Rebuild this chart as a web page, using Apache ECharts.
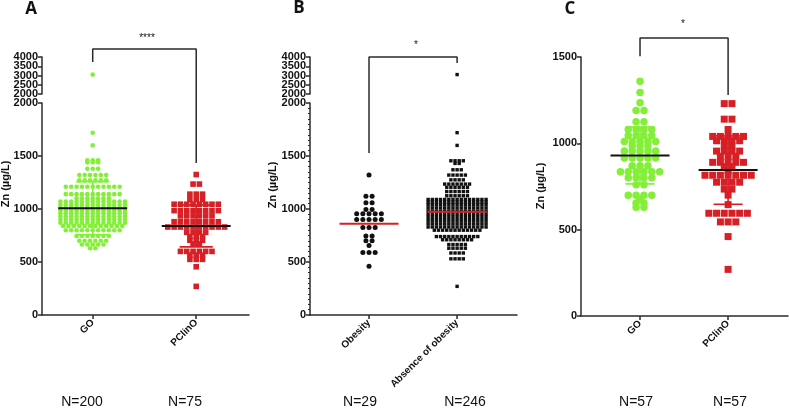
<!DOCTYPE html>
<html>
<head>
<meta charset="utf-8">
<script src="https://cdn.jsdelivr.net/npm/echarts@6/dist/echarts.min.js"></script>
<style>
  html, body { margin: 0; padding: 0; background: #fff; }
  #main { width: 789px; height: 409px; }
</style>
</head>
<body>
<div id="main"></div>
<script>
const catsA = ['GO', 'PClinO'];
const goA = [[3050,1],[1720,1],[1600,1],[1460,3],[1440,3],[1380,3],[1320,6],[1270,6],[1210,11],[1140,11],[1100,7],
  [1070,13],[1040,13],[1010,13],[985,13],[960,13],[930,13],[900,13],[870,13],[840,12],[800,11],[745,7],[700,6],[665,5],[630,2]];
const pclinA = [[1325,1],[1235,2],[1140,3],[1090,3],[1045,8],[985,8],[935,6],[880,8],[830,10],[780,4],[740,3],[705,3],
  [670,2],[600,6],[565,3],[525,3],[455,1],[270,1]];
const meanA = [1008, 840];
const sdA = [250, 197];
const nA = ['N=200', 'N=75'];

const catsB = ['Obesity', 'Absence of obesity'];
const obesB = [[1320,1],[1120,2],[1060,2],[995,2],[955,5],[900,5],[825,3],[745,2],[700,2],[655,1],[590,3],[460,1]];
const absB = [[3050,1],[1720,1],[1600,1],[1455,4],[1430,2],[1370,3],[1320,5],[1275,4],[1235,7],[1205,6],[1165,6],[1125,6],
  [1090,15],[1065,15],[1040,15],[1010,15],[980,15],[950,15],[920,15],[890,15],[860,15],[830,15],[800,12],
  [740,11],[710,8],[665,5],[630,5],[585,4],[530,4],[270,1]];
const meanB = [860, 975];
const nB = ['N=29', 'N=246'];

const catsC = ['GO', 'PClinO'];
const goC = [[1360,1],[1295,1],[1235,1],[1190,2],[1125,2],[1080,4],[1045,4],[1010,5],[985,3],[955,5],[915,5],[870,3],
  [835,6],[800,4],[760,2],[700,4],[675,1],[655,2],[630,2]];
const pclinC = [[1230,2],[1140,2],[1080,1],[1040,5],[1015,4],[985,2],[955,4],[925,3],[890,5],[865,2],[840,1],[815,7],
  [775,4],[735,2],[700,1],[645,1],[595,6],[545,3],[460,1],[270,1]];
const meanC = [930, 845];
const sdC = [165, 198];
const nC = ['N=57', 'N=57'];

const yLow = [0, 500, 1000, 1500, 2000];
const yHigh = [2000, 2500, 3000, 3500, 4000];
const yC = [0, 500, 1000, 1500];

const GREEN = '#84ef38';
const RED = '#d71f26';
const INK = '#2b2b2b';
const FONT = 'Liberation Sans';

// GraphPad-like rows: dots of one row sit side by side round the category
function swarm(rows, idx, step, lo, hi) {
  const pts = [];
  rows.forEach(([v, n]) => {
    if (v < lo || v > hi) return;
    for (let i = 0; i < n; i++) pts.push([idx + (i - (n - 1) / 2) * step, v]);
  });
  return pts;
}

function dots(axis, rows, idx, step, lo, hi, symbol, size, color) {
  return {
    type: 'scatter', xAxisIndex: axis, yAxisIndex: axis,
    symbol: symbol, symbolSize: size, silent: true,
    itemStyle: { color: color, opacity: 1 },
    data: swarm(rows, idx, step, lo, hi)
  };
}

function seg(x1, y1, x2, y2, color, w) {
  return { type: 'line', shape: { x1, y1, x2, y2 }, style: { stroke: color, lineWidth: w } };
}

function stats(axis, means, sds, sdColors, meanColor, halfMean, halfCap) {
  return {
    type: 'custom', xAxisIndex: axis, yAxisIndex: axis, z: 5, silent: true, clip: false,
    data: means.map((m, i) => [i, m, sds ? sds[i] : 0]),
    renderItem: (params, api) => {
      const i = api.value(0), m = api.value(1), s = api.value(2);
      const kids = [];
      if (s > 0) {
        const top = api.coord([i, m + s]), bot = api.coord([i, m - s]);
        const cl = api.coord([i - halfCap, m])[0], cr = api.coord([i + halfCap, m])[0];
        kids.push(seg(top[0], top[1], bot[0], bot[1], sdColors[i], 1.6));
        kids.push(seg(cl, top[1], cr, top[1], sdColors[i], 1.6));
        kids.push(seg(cl, bot[1], cr, bot[1], sdColors[i], 1.6));
      }
      const a = api.coord([i - halfMean, m]), b = api.coord([i + halfMean, m]);
      kids.push(seg(a[0], a[1], b[0], b[1], meanColor, 2));
      return { type: 'group', children: kids };
    }
  };
}

function bracket(axis, pts) {
  return {
    type: 'line', xAxisIndex: axis, yAxisIndex: axis, data: pts, symbol: 'none',
    clip: false, silent: true, z: 6, lineStyle: { color: INK, width: 1.5 }
  };
}

function yAxis(grid, ticks, minor, labels) {
  return {
    type: 'value', gridIndex: grid,
    min: ticks[0], max: ticks[ticks.length - 1], interval: ticks[1] - ticks[0],
    axisLine: { show: true, onZero: false, lineStyle: { color: INK, width: 1.5 } },
    axisTick: { show: true, customValues: ticks, length: 4, lineStyle: { color: INK, width: 1.5 } },
    minorTick: { show: !!minor, splitNumber: 10, length: 2, lineStyle: { color: INK, width: 1 } },
    axisLabel: {
      show: labels, customValues: ticks, margin: 4, color: '#111', fontSize: 11, fontWeight: 'bold', fontFamily: FONT,
      formatter: v => String(v)
    },
    splitLine: { show: false }
  };
}

function xAxis(grid, cats, lo, hi, visible) {
  return {
    type: 'value', gridIndex: grid, min: lo, max: hi, show: visible,
    axisLine: { show: true, onZero: false, lineStyle: { color: INK, width: 1.5 } },
    axisTick: { show: true, customValues: [0, 1], length: 4, lineStyle: { color: INK, width: 1.5 } },
    axisLabel: {
      customValues: [0, 1], rotate: 45, margin: 6, formatter: v => cats[Math.round(v)],
      color: '#111', fontSize: 10, fontWeight: 'bold', fontFamily: FONT
    },
    splitLine: { show: false }
  };
}

function txt(x, y, s, size, weight, family, rot, align) {
  return {
    type: 'text', x: x, y: y, rotation: rot || 0, silent: true,
    style: { text: s, fill: '#111', font: (weight || 'normal') + ' ' + size + 'px "' + (family || FONT) + '"',
      align: align || 'center', verticalAlign: 'middle' }
  };
}

const chart = echarts.init(document.getElementById('main'), null, { renderer: 'canvas' });

const grids = [
  { left: 42, top: 57, width: 207, height: 37 },
  { left: 42, top: 103, width: 207, height: 212 },
  { left: 310, top: 57, width: 207, height: 37 },
  { left: 310, top: 103, width: 207, height: 212 },
  { left: 581, top: 57, width: 207, height: 259 }
];

const texts = [
  txt(31, 9, 'A', 17, 'bold', 'Open Sans'),
  txt(299, 8, 'B', 17, 'bold', 'Open Sans'),
  txt(570, 9, 'C', 17, 'bold', 'Open Sans'),
  txt(147, 38, '****', 10),
  txt(416, 45, '*', 10),
  txt(683, 24, '*', 10),
  txt(6, 184, 'Zn (µg/L)', 11, 'bold', FONT, Math.PI / 2),
  txt(273, 185, 'Zn (µg/L)', 11, 'bold', FONT, Math.PI / 2),
  txt(541, 186, 'Zn (µg/L)', 11, 'bold', FONT, Math.PI / 2),
  txt(82, 402, nA[0], 14), txt(185, 402, nA[1], 14),
  txt(360, 402, nB[0], 14), txt(465, 402, nB[1], 14),
  txt(636, 402, nC[0], 14), txt(730, 402, nC[1], 14)
];

const option = {
  animation: false,
  backgroundColor: '#fff',
  grid: grids,
  xAxis: [
    xAxis(0, catsA, -0.49, 1.51, false),
    xAxis(1, catsA, -0.49, 1.51, true),
    xAxis(2, catsB, -0.67, 1.68, false),
    xAxis(3, catsB, -0.67, 1.68, true),
    xAxis(4, catsC, -0.67, 1.68, true)
  ],
  yAxis: [
    yAxis(0, yHigh, false, false),
    yAxis(1, yLow, false, true),
    yAxis(2, yHigh, false, false),
    yAxis(3, yLow, true, true),
    yAxis(4, yC, false, true)
  ],
  series: [
    // A
    dots(0, goA, 0, 0.052, 2000.1, 4000, 'circle', 4.6, GREEN),
    dots(1, goA, 0, 0.052, 0, 2000, 'circle', 4.6, GREEN),
    dots(1, pclinA, 1, 0.061, 0, 2000, 'rect', 5.6, RED),
    stats(1, meanA, sdA, [GREEN, RED], '#111', 0.333, 0.16),
    bracket(1, [[0, 2387], [0, 2509], [1, 2509], [1, 1434]]),
    // B
    dots(2, absB, 1, 0.047, 2000.1, 4000, 'rect', 3.4, '#111'),
    dots(3, obesB, 0, 0.07, 0, 2000, 'circle', 5, '#111'),
    dots(3, absB, 1, 0.047, 0, 2000, 'rect', 3.4, '#111'),
    stats(3, meanB, null, null, RED, 0.335, 0),
    bracket(3, [[0, 1528], [0, 2434], [1, 2434], [1, 2377]]),
    // C
    dots(4, goC, 0, 0.089, 0, 2000, 'circle', 7.5, GREEN),
    dots(4, pclinC, 1, 0.0875, 0, 2000, 'rect', 7, RED),
    stats(4, meanC, sdC, [GREEN, RED], '#111', 0.335, 0.165),
    bracket(4, [[0, 1505], [0, 1610], [1, 1610], [1, 1280]])
  ],
  graphic: texts
};

chart.setOption(option);

// the short upper axes are too cramped for echarts to keep every label, so place them by hand
[0, 2].forEach(k => {
  yHigh.forEach(v => {
    const y = chart.convertToPixel({ yAxisIndex: k }, v);
    texts.push(txt(grids[k].left - 4, y, String(v), 11, 'bold', FONT, 0, 'right'));
  });
});
chart.setOption({ graphic: texts });
</script>
</body>
</html>
